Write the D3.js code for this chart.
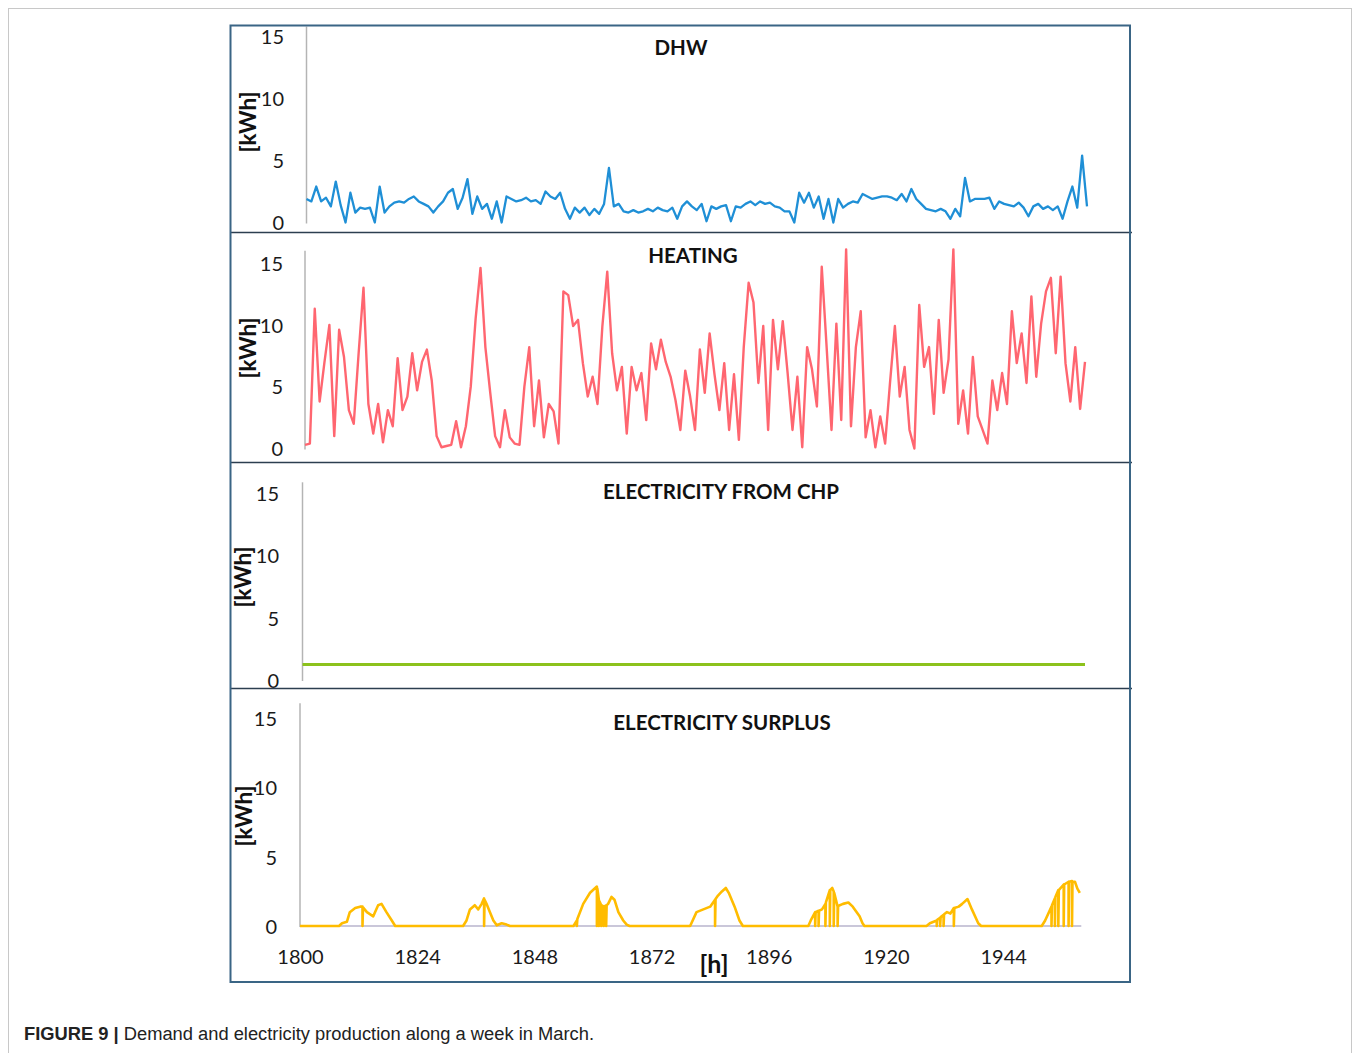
<!DOCTYPE html>
<html><head><meta charset="utf-8">
<script src="https://cdn.jsdelivr.net/npm/d3@7"></script>
<style>
body{margin:0;background:#fff;}
svg{display:block;}
</style></head><body>
<svg id="chart" width="1356" height="1053"></svg>
<script>
// ---------------- DATA ----------------
const startHour = 1800;
const hourTicks = [1800, 1824, 1848, 1872, 1896, 1920, 1944];
const yTicks = [0, 5, 10, 15];
const panelTitles = ["DHW", "HEATING", "ELECTRICITY FROM CHP", "ELECTRICITY SURPLUS"];
const yAxisLabel = "[kWh]";
const xAxisLabel = "[h]";

// hourly values, hour 1800 .. 1960
const dhwKWh = [1.9,1.7,2.9,1.7,2.0,1.3,3.3,1.4,0.0,2.4,0.8,1.2,1.1,1.2,0.0,2.9,0.8,1.3,1.6,1.7,
1.6,1.9,2.1,1.7,1.5,1.3,0.8,1.3,1.7,2.4,2.7,1.1,2.0,3.5,0.7,2.1,1.1,1.5,0.3,1.7,
0.0,2.1,1.9,1.7,1.8,2.0,1.7,1.8,1.5,2.5,2.1,1.9,2.4,1.1,0.3,1.2,0.8,1.2,0.6,1.1,
0.7,1.5,4.4,1.3,1.5,0.9,0.8,1.0,0.8,0.9,1.1,0.9,1.2,1.0,0.9,1.2,0.3,1.3,1.7,1.3,
1.0,1.5,0.1,1.3,1.1,1.3,1.4,0.1,1.3,1.2,1.5,1.7,1.4,1.7,1.5,1.6,1.3,1.2,0.9,0.9,
0.0,2.4,1.6,2.4,1.2,2.1,0.3,1.9,0.0,1.9,1.2,1.5,1.7,1.6,2.3,2.1,1.9,2.0,2.1,2.1,
2.0,1.8,2.3,1.7,2.7,1.9,1.5,1.1,1.0,0.9,1.1,0.9,0.3,1.1,0.5,3.6,1.7,1.9,1.9,1.9,
2.0,1.1,1.7,1.5,1.4,1.3,1.6,1.2,0.5,1.3,1.5,1.1,1.3,1.0,1.3,0.3,1.7,2.9,1.2,5.4,1.3];

const heatingKWh = [0.3,0.4,11.3,3.8,7.0,10.0,1.0,9.6,7.4,3.1,2.0,7.7,13.0,3.6,1.2,3.6,0.5,3.1,1.8,7.3,
3.1,4.2,7.7,4.7,7.0,8.0,5.5,1.0,0.1,0.2,0.3,2.2,0.1,1.8,5.0,10.5,14.6,8.2,4.5,1.0,
0.1,3.1,0.9,0.4,0.3,5.0,8.2,1.8,5.5,0.9,3.6,3.0,0.4,12.7,12.4,9.9,10.4,6.9,4.2,5.8,
3.6,9.9,14.3,7.7,4.7,6.6,1.2,6.6,4.7,6.1,2.3,8.5,6.4,8.8,7.0,5.8,3.9,1.5,6.3,4.2,
1.5,8.0,4.5,9.3,6.0,3.1,6.9,1.5,6.0,0.7,8.2,13.4,11.8,5.3,9.9,1.5,10.4,6.4,10.3,6.1,
1.5,5.8,0.1,8.2,6.4,3.4,14.7,8.2,1.5,10.1,2.3,16.1,1.8,8.2,11.1,0.9,3.1,0.1,2.6,0.4,
5.3,9.9,4.2,6.6,1.5,0.0,11.6,6.6,8.2,2.8,10.4,4.5,7.2,16.1,2.0,4.7,1.2,7.4,2.6,1.5,
0.4,5.5,3.1,6.1,3.6,11.1,6.9,9.3,5.3,12.3,5.8,10.1,12.7,13.8,7.7,13.9,6.9,3.8,8.2,3.2,7.0];

// constant CHP output over the week
const chpHours = [1800, 1960];
const chpKWh = [1.25, 1.25];

// surplus: [hour offset from 1800, kWh]
const surplusPoints = [
[0,0],[8,0],[8.6,0.2],[9.6,0.3],[10.2,1.0],[11.3,1.3],[12.3,1.4],[12.8,1.4],[12.8,0],[12.9,1.35],[13.7,1.0],[15,0.7],[16,1.5],[16.7,1.6],[17.7,1.0],[18.8,0.4],[19.5,0],
[33.4,0],[34.1,0.4],[34.8,1.2],[35.8,1.5],[36.5,1.2],[37.2,1.6],[37.7,2.0],[37.7,0],[37.8,1.9],[38.2,1.6],[38.9,1.0],[39.6,0.4],[40.3,0.05],[41.3,0.2],[42.3,0.1],[43,0],
[56,0],[56.7,0.4],[56.7,0],[56.8,0.5],[58,1.6],[59.4,2.4],[60.8,2.85],[60.8,0],[60.9,2.7],[61.2,1.9],[61.2,0],[61.3,1.8],[61.7,1.5],[61.7,0],[61.8,1.5],[62.2,1.4],[62.2,0],[62.3,1.4],[62.7,1.5],[62.7,0],[62.8,1.5],[63.1,1.6],[63.8,2.1],[64.4,1.9],[65.2,1.0],[66.2,0.4],[66.9,0.1],[67.5,0],
[79.9,0],[81.2,1.0],[82.6,1.2],[84,1.4],[85,1.9],[85,0],[85.1,1.95],[85.6,2.2],[86.4,2.5],[87.2,2.75],[87.8,2.4],[89,1.4],[90,0.4],[90.7,0],
[104.1,0],[104.6,0.4],[105.5,1.0],[105.5,0],[105.6,1.0],[106.2,1.1],[106.2,0],[106.3,1.1],[106.9,1.2],[107.6,1.6],[107.6,0],[107.7,1.7],[108.5,2.6],[108.5,0],[108.6,2.6],[109,2.75],[109.3,2.5],[109.3,0],[109.4,2.4],[110.1,1.4],[110.1,0],[110.2,1.45],[111.2,1.6],[112.3,1.7],[113.2,1.4],[114.6,0.7],[115.2,0.2],[115.6,0],
[128.3,0],[129,0.2],[130.4,0.4],[130.4,0],[130.5,0.45],[131.1,0.6],[131.1,0],[131.2,0.65],[131.8,0.8],[131.8,0],[131.9,0.85],[132.5,1.0],[133.2,0.9],[133.9,1.3],[133.9,0],[134,1.3],[134.9,1.4],[135.6,1.6],[136.7,1.95],[137.6,1.2],[138.9,0.2],[139.5,0],
[151.9,0],[152.6,0.4],[153.9,1.4],[153.9,0],[154,1.5],[154.6,2.0],[154.6,0],[154.7,2.1],[155.3,2.6],[155.3,0],[155.4,2.6],[156.4,3.0],[156.4,0],[156.5,3.0],[157.4,3.2],[157.4,0],[157.5,3.2],[158.1,3.25],[158.1,0],[158.2,3.2],[158.7,3.2],[159.2,2.7],[159.7,2.4]
];

const captionBold = "FIGURE 9 |";
const captionText = " Demand and electricity production along a week in March.";

// ---------------- DRAWING ----------------
const svg = d3.select("#chart");
const FONT = "Lato, 'Open Sans', 'Liberation Sans', sans-serif";

// outer figure frame
svg.append("rect").attr("x", 8.5).attr("y", 8.5).attr("width", 1343).attr("height", 1070)
  .attr("fill", "none").attr("stroke", "#c8c8c8").attr("stroke-width", 1);

const hourSeries = arr => arr.map((v, i) => ({h: startHour + i, v}));

const panels = [
  {title: panelTitles[0], data: hourSeries(dhwKWh), color: "#1f8fd6", lw: 2.3,
   x0: 306.5, x1: 1087, y0: 222.5, y15: 36.5, yMax: 15.8, tx: 681, ty: 48, kx: 248, ky: 122, tickRight: 284},
  {title: panelTitles[1], data: hourSeries(heatingKWh), color: "#ff6670", lw: 2.4,
   x0: 305, x1: 1085, y0: 448.5, y15: 263, yMax: 16, tx: 693, ty: 256, kx: 248, ky: 348, tickRight: 283},
  {title: panelTitles[2], data: chpHours.map((h, i) => ({h, v: chpKWh[i]})), color: "#8cc21c", lw: 3,
   x0: 302.5, x1: 1085, y0: 680, y15: 493.5, yMax: 15.9, tx: 721, ty: 492, kx: 243, ky: 577, tickRight: 279},
  {title: panelTitles[3], data: surplusPoints.map(p => ({h: startHour + p[0], v: p[1]})), color: "#ffbc00", lw: 2.6,
   x0: 300, x1: 300 + 160 * 4.883, y0: 926, y15: 718.5, yMax: 16.1, tx: 722, ty: 723, kx: 244, ky: 816, tickRight: 277}
];

panels.forEach((p, idx) => {
  const x = d3.scaleLinear().domain([startHour, startHour + 160]).range([p.x0, p.x1]);
  const y = d3.scaleLinear().domain([0, 15]).range([p.y0, p.y15]);
  const g = svg.append("g");

  // vertical axis line
  g.append("line").attr("x1", p.x0).attr("x2", p.x0)
    .attr("y1", y(0) + 1).attr("y2", y(p.yMax))
    .attr("stroke", "#b4b4b4").attr("stroke-width", 1.5);

  // tick labels via d3 axis
  const ax = g.append("g").attr("transform", `translate(${p.x0},0)`)
    .call(d3.axisLeft(y).tickValues(yTicks).tickSize(0).tickPadding(p.x0 - p.tickRight).tickFormat(d3.format("d")));
  ax.select(".domain").remove();
  ax.selectAll("text").attr("font-family", FONT).attr("font-size", 20).attr("fill", "#1a1a1a").attr("dy", "0.36em");

  // zero baseline for surplus
  if (idx === 3) {
    g.append("line").attr("x1", p.x0).attr("x2", x(startHour + 160))
      .attr("y1", y(0)).attr("y2", y(0)).attr("stroke", "#b8b4cc").attr("stroke-width", 1.5);
  }

  // series line
  const line = d3.line().x(d => x(d.h)).y(d => y(d.v));
  g.append("path").datum(p.data).attr("d", line)
    .attr("fill", "none").attr("stroke", p.color).attr("stroke-width", p.lw)
    .attr("stroke-linejoin", "round");

  // title
  g.append("text").attr("x", p.tx).attr("y", p.ty).attr("text-anchor", "middle").attr("dy", "0.36em")
    .attr("font-family", FONT).attr("font-weight", "bold").attr("font-size", 20.5).attr("fill", "#111")
    .text(p.title);

  // y label
  g.append("text").attr("transform", `translate(${p.kx},${p.ky}) rotate(-90)`)
    .attr("text-anchor", "middle").attr("dy", "0.36em")
    .attr("font-family", FONT).attr("font-weight", "bold").attr("font-size", 22.5).attr("fill", "#111")
    .text(yAxisLabel);

  // x axis on last panel
  if (idx === 3) {
    const xa = g.append("g").attr("transform", `translate(0,${p.y0})`)
      .call(d3.axisBottom(x).tickValues(hourTicks).tickSize(0).tickPadding(24).tickFormat(d3.format("d")));
    xa.select(".domain").remove();
    xa.selectAll("text").attr("font-family", FONT).attr("font-size", 20).attr("fill", "#1a1a1a");
    g.append("text").attr("x", 714).attr("y", 973).attr("text-anchor", "middle")
      .attr("font-family", FONT).attr("font-weight", "bold").attr("font-size", 25).attr("fill", "#111")
      .text(xAxisLabel);
  }
});

// panel separators
[232.5, 462.5, 688.5].forEach(yy => {
  svg.append("line").attr("x1", 230).attr("x2", 1132).attr("y1", yy).attr("y2", yy)
    .attr("stroke", "#2c3e50").attr("stroke-width", 1.5);
});
// chart box
svg.append("rect").attr("x", 230.5).attr("y", 25.5).attr("width", 899.5).attr("height", 956.5)
  .attr("fill", "none").attr("stroke", "#3a6585").attr("stroke-width", 2);

// caption
const cap = svg.append("text").attr("x", 24).attr("y", 1040)
  .attr("font-family", "'Liberation Sans', Arial, sans-serif").attr("font-size", 18).attr("fill", "#222")
  .attr("textLength", 570).attr("lengthAdjust", "spacingAndGlyphs");
cap.append("tspan").attr("font-weight", "bold").text(captionBold);
cap.append("tspan").text(captionText);
</script>
</body></html>
